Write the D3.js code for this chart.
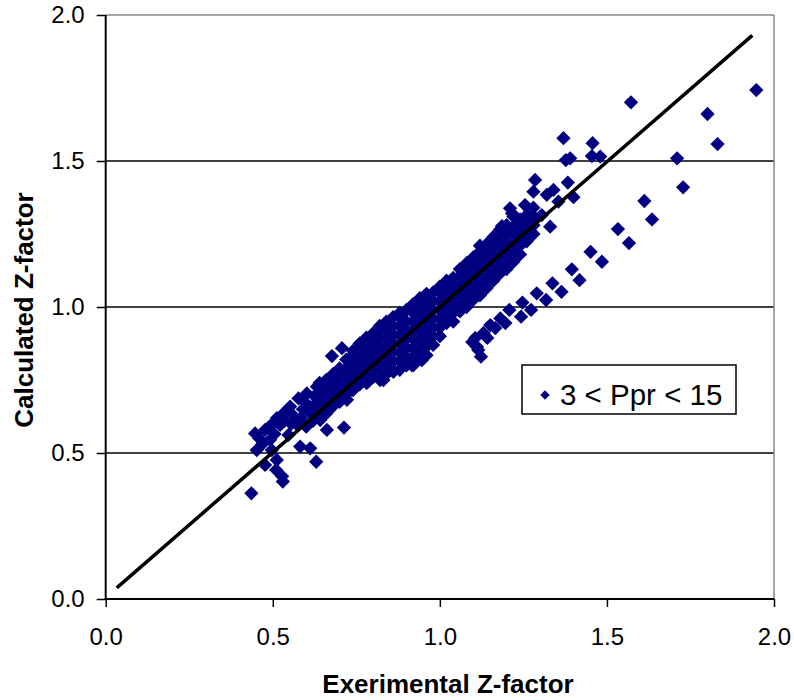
<!DOCTYPE html>
<html>
<head>
<meta charset="utf-8">
<script src="https://cdn.jsdelivr.net/npm/d3@7"></script>
<style>
  body { margin: 0; background: #fff; }
  text { font-family: "Liberation Sans", Arial, sans-serif; }
</style>
</head>
<body>
<div id="chart"></div>
<script>
// ticks
var tickVals = [0, 0.5, 1.0, 1.5, 2.0];
var gridVals = [0.5, 1.0, 1.5];

// 45 degree reference line
var diagX = [0.033, 1.935];
var diagY = [0.038, 1.930];

// left scattered points
var leftPts = [[0.436,0.362],[0.530,0.402],[0.528,0.420],[0.510,0.442],[0.477,0.459],[0.512,0.476],
  [0.452,0.510],[0.497,0.510],[0.447,0.567],[0.477,0.579],[0.492,0.545],[0.582,0.522],[0.612,0.516],
  [0.630,0.470],[0.662,0.579],[0.713,0.587],[0.547,0.562],[0.522,0.596],[0.512,0.619],[0.642,0.613],
  [0.552,0.659],[0.577,0.687],[0.602,0.704],[0.632,0.727],[0.657,0.739],[0.532,0.636],[0.468,0.530],
  [0.505,0.565],[0.535,0.610],[0.560,0.630],[0.570,0.600],[0.590,0.650],[0.600,0.670],[0.620,0.660],
  [0.625,0.695],[0.677,0.832],[0.707,0.859],[0.722,0.682],[0.781,0.739],[0.821,0.750],[0.816,0.761],
  [0.831,0.750],[0.861,0.778],[0.916,0.801],[0.946,0.818],[0.490,0.590],[0.500,0.600],[0.460,0.550],
  [0.555,0.600],[0.585,0.620],[0.610,0.640],[0.620,0.610],[0.600,0.590]];

// dense band along the line
var bandPts = [
  [0.64,0.62],[0.64,0.65],[0.64,0.68],[0.64,0.71],[0.64,0.74],
  [0.66,0.635],[0.66,0.665],[0.66,0.695],[0.66,0.725],[0.66,0.75],
  [0.68,0.66],[0.68,0.69],[0.68,0.72],[0.68,0.75],[0.68,0.77],
  [0.70,0.675],[0.70,0.705],[0.70,0.735],[0.70,0.765],[0.70,0.79],
  [0.72,0.70],[0.72,0.73],[0.72,0.76],[0.72,0.79],[0.72,0.82],
  [0.74,0.715],[0.74,0.745],[0.74,0.775],[0.74,0.805],[0.74,0.835],[0.74,0.85],
  [0.76,0.735],[0.76,0.765],[0.76,0.795],[0.76,0.825],[0.76,0.855],[0.76,0.875],
  [0.78,0.75],[0.78,0.78],[0.78,0.81],[0.78,0.84],[0.78,0.87],[0.78,0.895],
  [0.80,0.76],[0.80,0.79],[0.80,0.82],[0.80,0.85],[0.80,0.88],[0.80,0.91],
  [0.82,0.775],[0.82,0.805],[0.82,0.835],[0.82,0.865],[0.82,0.895],[0.82,0.925],[0.82,0.935],
  [0.84,0.77],[0.84,0.80],[0.84,0.83],[0.84,0.86],[0.84,0.89],[0.84,0.92],[0.84,0.95],
  [0.86,0.785],[0.86,0.815],[0.86,0.845],[0.86,0.875],[0.86,0.905],[0.86,0.935],[0.86,0.965],
  [0.88,0.785],[0.88,0.815],[0.88,0.845],[0.88,0.875],[0.88,0.905],[0.88,0.935],[0.88,0.965],[0.88,0.98],
  [0.90,0.80],[0.90,0.83],[0.90,0.86],[0.90,0.89],[0.90,0.92],[0.90,0.95],[0.90,0.99],
  [0.92,0.80],[0.92,0.83],[0.92,0.86],[0.92,0.89],[0.92,0.92],[0.92,0.95],[0.92,0.98],[0.92,1.01],
  [0.94,0.825],[0.94,0.855],[0.94,0.885],[0.94,0.915],[0.94,0.945],[0.94,0.975],[0.94,1.005],[0.94,1.03],
  [0.96,0.835],[0.96,0.865],[0.96,0.895],[0.96,0.925],[0.96,0.955],[0.96,0.985],[0.96,1.015],[0.96,1.045],
  [0.98,0.87],[0.98,0.90],[0.98,0.93],[0.98,0.96],[0.98,0.99],[0.98,1.02],[0.98,1.05],
  [1.00,0.90],[1.00,0.93],[1.00,0.96],[1.00,0.99],[1.00,1.02],[1.00,1.05],[1.00,1.07],
  [1.02,0.945],[1.02,0.975],[1.02,1.005],[1.02,1.035],[1.02,1.065],[1.02,1.09],
  [1.04,0.95],[1.04,0.98],[1.04,1.01],[1.04,1.04],[1.04,1.07],[1.04,1.10],
  [1.06,0.985],[1.06,1.015],[1.06,1.045],[1.06,1.075],[1.06,1.105],[1.06,1.13],
  [1.08,1.00],[1.08,1.03],[1.08,1.06],[1.08,1.09],[1.08,1.12],[1.08,1.15],
  [1.10,1.025],[1.10,1.055],[1.10,1.085],[1.10,1.115],[1.10,1.145],[1.10,1.17],
  [1.12,1.04],[1.12,1.07],[1.12,1.10],[1.12,1.13],[1.12,1.16],[1.12,1.19],[1.12,1.21],
  [1.14,1.065],[1.14,1.095],[1.14,1.125],[1.14,1.155],[1.14,1.185],[1.14,1.215],
  [1.16,1.09],[1.16,1.12],[1.16,1.15],[1.16,1.18],[1.16,1.21],[1.16,1.24],
  [1.18,1.115],[1.18,1.145],[1.18,1.175],[1.18,1.205],[1.18,1.235],[1.18,1.265],
  [1.20,1.13],[1.20,1.16],[1.20,1.19],[1.20,1.22],[1.20,1.25],[1.20,1.28],
  [1.22,1.155],[1.22,1.185],[1.22,1.215],[1.22,1.245],[1.22,1.275],[1.22,1.31],
  [1.24,1.18],[1.24,1.21],[1.24,1.24],[1.24,1.27],[1.24,1.30],
  [1.26,1.225],[1.26,1.255],[1.26,1.285],[1.26,1.315],
  [1.28,1.25],[1.28,1.28],[1.28,1.31],[1.28,1.34]];

// upper tail near 1.3-1.5
var upperPts = [[1.370,1.578],[1.457,1.561],[1.377,1.503],[1.390,1.509],[1.455,1.517],[1.480,1.515],
  [1.285,1.435],[1.280,1.395],[1.383,1.426],[1.400,1.376],[1.340,1.401],[1.320,1.384],[1.355,1.361],
  [1.255,1.349],[1.210,1.338],[1.216,1.321],[1.186,1.277],[1.330,1.275],[1.305,1.315],[1.280,1.298]];

// lower branch under the line
var branchPts = [[1.612,1.363],[1.635,1.300],[1.533,1.267],[1.566,1.219],[1.451,1.189],[1.485,1.155],
  [1.395,1.129],[1.418,1.092],[1.337,1.081],[1.364,1.052],[1.290,1.047],[1.318,1.024],[1.247,1.015],
  [1.273,0.990],[1.243,0.967],[1.208,0.990],[1.181,0.961],[1.151,0.938],[1.131,0.911],[1.106,0.894],
  [1.111,0.864],[1.123,0.830],[1.196,0.945],[1.166,0.928],[1.142,0.894],[1.115,0.853],[1.097,0.880]];

// far outliers
var farPts = [[1.710,1.509],[1.728,1.410],[1.801,1.661],[1.831,1.558],[1.572,1.701],[1.947,1.743]];

var legendLabel = "3 < Ppr < 15";

var allPts = leftPts.concat(bandPts, upperPts, branchPts, farPts);

var W = 794, H = 700;
var pLeft = 105.7, pRight = 774, pTop = 15, pBottom = 599;

var svg = d3.select("#chart").append("svg")
    .attr("width", W)
    .attr("height", H);

var x = d3.scaleLinear().domain([0, 2]).range([pLeft, pRight]);
var y = d3.scaleLinear().domain([0, 2]).range([pBottom, pTop]);

// grid lines
svg.selectAll(".grid")
    .data(gridVals)
    .enter().append("line")
    .attr("x1", pLeft).attr("x2", pRight)
    .attr("y1", function(d){ return y(d); })
    .attr("y2", function(d){ return y(d); })
    .attr("stroke", "#000")
    .attr("stroke-width", 1.5);

// top and right border
svg.append("line")
    .attr("x1", pLeft).attr("x2", pRight)
    .attr("y1", pTop).attr("y2", pTop)
    .attr("stroke", "#888").attr("stroke-width", 1.5);
svg.append("line")
    .attr("x1", pRight).attr("x2", pRight)
    .attr("y1", pTop).attr("y2", pBottom)
    .attr("stroke", "#888").attr("stroke-width", 1.5);

// axes
var yAxis = d3.axisLeft(y).tickValues(tickVals).tickFormat(d3.format(".1f")).tickSize(9).tickPadding(12);
var xAxis = d3.axisBottom(x).tickValues(tickVals).tickFormat(d3.format(".1f")).tickSize(8).tickPadding(21);

var gy = svg.append("g")
    .attr("transform", "translate(" + pLeft + ",0)")
    .call(yAxis);
var gx = svg.append("g")
    .attr("transform", "translate(0," + pBottom + ")")
    .call(xAxis);

[gx, gy].forEach(function(g){
    g.select(".domain").remove();
    g.selectAll(".tick line").attr("stroke", "#000").attr("stroke-width", 1.5);
    g.selectAll(".tick text")
        .attr("fill", "#000")
        .style("font-size", "24px")
        .style("font-family", "'Liberation Sans', Arial, sans-serif");
});

svg.append("line")
    .attr("x1", pLeft).attr("x2", pLeft)
    .attr("y1", pTop).attr("y2", pBottom + 0.8)
    .attr("stroke", "#000").attr("stroke-width", 2);
svg.append("line")
    .attr("x1", pLeft - 1).attr("x2", pRight)
    .attr("y1", pBottom).attr("y2", pBottom)
    .attr("stroke", "#000").attr("stroke-width", 2);

// points
var diamond = d3.symbol().type(d3.symbolSquare).size(102);

svg.append("g")
    .selectAll("path")
    .data(allPts)
    .enter().append("path")
    .attr("d", diamond)
    .attr("transform", function(d){ return "translate(" + x(d[0]) + "," + y(d[1]) + ") rotate(45)"; })
    .attr("fill", "#000080");

// 45 degree line
svg.append("line")
    .attr("x1", x(diagX[0])).attr("y1", y(diagY[0]))
    .attr("x2", x(diagX[1])).attr("y2", y(diagY[1]))
    .attr("stroke", "#000")
    .attr("stroke-width", 3.5);

// legend
var lg = svg.append("g").attr("transform", "translate(522,365)");
lg.append("rect")
    .attr("width", 214).attr("height", 49)
    .attr("fill", "#fff")
    .attr("stroke", "#000")
    .attr("stroke-width", 1.5);
lg.append("path")
    .attr("d", d3.symbol().type(d3.symbolSquare).size(44))
    .attr("transform", "translate(23,30) rotate(45)")
    .attr("fill", "#000080");
lg.append("text")
    .attr("x", 38).attr("y", 40)
    .style("font-size", "29.5px")
    .text(legendLabel);

// axis titles
svg.append("text")
    .attr("x", 448).attr("y", 693)
    .attr("text-anchor", "middle")
    .style("font-size", "26px")
    .style("font-weight", "bold")
    .text("Exerimental Z-factor");

svg.append("text")
    .attr("transform", "translate(33,310) rotate(-90)")
    .attr("text-anchor", "middle")
    .style("font-size", "26px")
    .style("font-weight", "bold")
    .text("Calculated Z-factor");
</script>
</body>
</html>
